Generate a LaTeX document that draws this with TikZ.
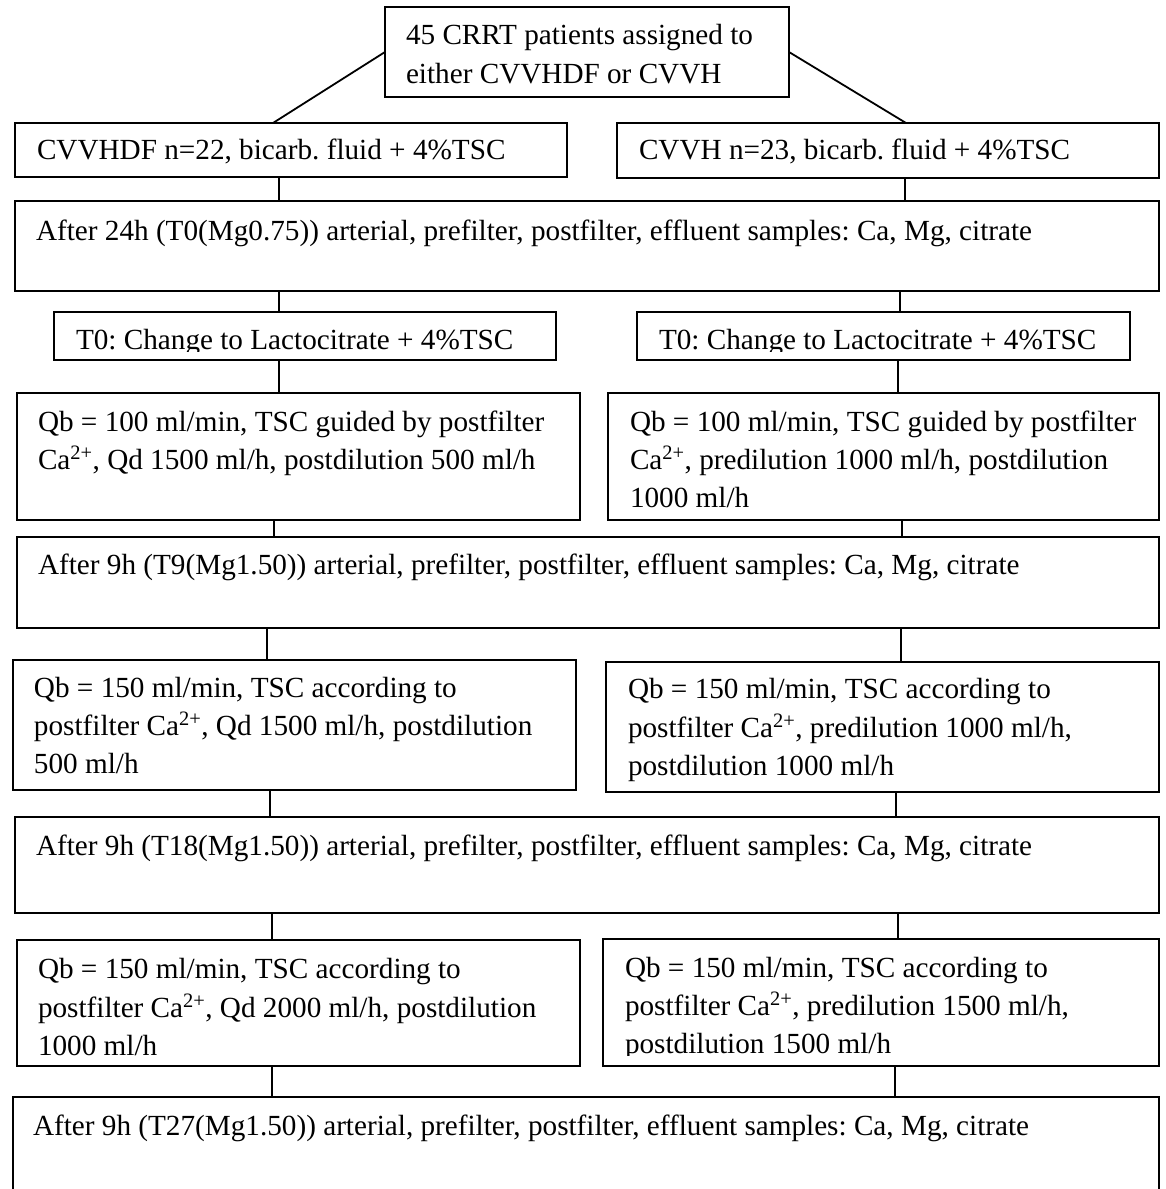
\documentclass[tikz,border=0pt]{standalone}
\usepackage{fontspec}
\setmainfont{Liberation Serif}
\usetikzlibrary{fit}
\frenchspacing
\begin{document}
\begin{tikzpicture}[x=1pt,y=-1pt,
  box/.style={draw=black, line width=1.8pt, rectangle, inner sep=0pt, outer sep=0pt},
  conn/.style={draw=black, line width=1.8pt},
  txt/.style={inner sep=0pt, outer sep=0pt, anchor=base west, font=\fontsize{29.2}{38}\selectfont}]
\useasboundingbox (0,0) rectangle (1166,1189);
\clip (0,0) rectangle (1166,1189);
\fill[white] (0,0) rectangle (1166,1189);
% boxes
\node[box, fit={(385,7) (789,97)}] (top) {};
\node[box, fit={(15,123) (567,177)}] (cvvhdf) {};
\node[box, fit={(617,123) (1159,178)}] (cvvh) {};
\node[box, fit={(15,201) (1159,291)}] (after24) {};
\node[box, fit={(54,312) (556,360)}] (t0L) {};
\node[box, fit={(637,312) (1130,360)}] (t0R) {};
\node[box, fit={(17,393) (580,520)}] (qbAL) {};
\node[box, fit={(608,393) (1159,520)}] (qbAR) {};
\node[box, fit={(17,537) (1159,628)}] (t9) {};
\node[box, fit={(13,660) (576,790)}] (qbBL) {};
\node[box, fit={(606,662) (1159,792)}] (qbBR) {};
\node[box, fit={(15,817) (1159,913)}] (t18) {};
\node[box, fit={(17,940) (580,1066)}] (qbCL) {};
\node[box, fit={(603,939) (1159,1066)}] (qbCR) {};
\node[box, fit={(13,1097) (1159,1195)}] (t27) {};
% texts
\node[txt] (top1) at (406,44) {45 CRRT patients assigned to};
\node[txt] (top2) at (406,83) {either CVVHDF or CVVH};
\node[txt] (cvvhdfT) at (37,159) {CVVHDF n=22, bicarb. fluid + 4\%TSC};
\node[txt] (cvvhT) at (639,159) {CVVH n=23, bicarb. fluid + 4\%TSC};
\node[txt] (after24T) at (36,240) {After 24h (T0(Mg0.75)) arterial, prefilter, postfilter, effluent samples: Ca, Mg, citrate};
\begin{scope}
\clip (0,300) rectangle (1166,351.5);
\node[txt] (t0LT) at (76,349) {T0: Change to Lactocitrate + 4\%TSC};
\node[txt] (t0RT) at (659,349) {T0: Change to Lactocitrate + 4\%TSC};
\end{scope}
\node[txt] (qbAL1) at (38,431) {Qb = 100 ml/min, TSC guided by postfilter};
\node[txt] (qbAL2) at (38,469) {Ca\textsuperscript{2+}, Qd 1500 ml/h, postdilution 500 ml/h};
\node[txt] (qbAR1) at (630,431) {Qb = 100 ml/min, TSC guided by postfilter};
\node[txt] (qbAR2) at (630,469) {Ca\textsuperscript{2+}, predilution 1000 ml/h, postdilution};
\node[txt] (qbAR3) at (630,507) {1000 ml/h};
\node[txt] (t9T) at (38,574) {After 9h (T9(Mg1.50)) arterial, prefilter, postfilter, effluent samples: Ca, Mg, citrate};
\node[txt] (qbBL1) at (34,697) {Qb = 150 ml/min, TSC according to};
\node[txt] (qbBL2) at (34,735) {postfilter Ca\textsuperscript{2+}, Qd 1500 ml/h, postdilution};
\node[txt] (qbBL3) at (34,773) {500 ml/h};
\node[txt] (qbBR1) at (628,698) {Qb = 150 ml/min, TSC according to};
\node[txt] (qbBR2) at (628,737) {postfilter Ca\textsuperscript{2+}, predilution 1000 ml/h,};
\node[txt] (qbBR3) at (628,775) {postdilution 1000 ml/h};
\node[txt] (t18T) at (36,855) {After 9h (T18(Mg1.50)) arterial, prefilter, postfilter, effluent samples: Ca, Mg, citrate};
\node[txt] (qbCL1) at (38,978) {Qb = 150 ml/min, TSC according to};
\node[txt] (qbCL2) at (38,1017) {postfilter Ca\textsuperscript{2+}, Qd 2000 ml/h, postdilution};
\node[txt] (qbCL3) at (38,1055) {1000 ml/h};
\node[txt] (qbCR1) at (625,977) {Qb = 150 ml/min, TSC according to};
\node[txt] (qbCR2) at (625,1015) {postfilter Ca\textsuperscript{2+}, predilution 1500 ml/h,};
\begin{scope}
\clip (600,1030) rectangle (1160,1055.5);
\node[txt] (qbCR3) at (625,1053) {postdilution 1500 ml/h};
\end{scope}
\node[txt] (t27T) at (33,1135) {After 9h (T27(Mg1.50)) arterial, prefilter, postfilter, effluent samples: Ca, Mg, citrate};
% connectors
\draw[conn] (top.west) -- (cvvhdf.north -| 273,0);
\draw[conn] (top.east) -- (cvvh.north -| 906,0);
\draw[conn] (cvvhdf.south -| 279,0) -- (after24.north -| 279,0);
\draw[conn] (cvvh.south -| 905,0) -- (after24.north -| 905,0);
\draw[conn] (after24.south -| 279,0) -- (t0L.north -| 279,0);
\draw[conn] (after24.south -| 900,0) -- (t0R.north -| 900,0);
\draw[conn] (t0L.south -| 279,0) -- (qbAL.north -| 279,0);
\draw[conn] (t0R.south -| 898,0) -- (qbAR.north -| 898,0);
\draw[conn] (qbAL.south -| 274,0) -- (t9.north -| 274,0);
\draw[conn] (qbAR.south -| 902,0) -- (t9.north -| 902,0);
\draw[conn] (t9.south -| 267,0) -- (qbBL.north -| 267,0);
\draw[conn] (t9.south -| 901,0) -- (qbBR.north -| 901,0);
\draw[conn] (qbBL.south -| 270,0) -- (t18.north -| 270,0);
\draw[conn] (qbBR.south -| 896,0) -- (t18.north -| 896,0);
\draw[conn] (t18.south -| 272,0) -- (qbCL.north -| 272,0);
\draw[conn] (t18.south -| 898,0) -- (qbCR.north -| 898,0);
\draw[conn] (qbCL.south -| 272,0) -- (t27.north -| 272,0);
\draw[conn] (qbCR.south -| 895,0) -- (t27.north -| 895,0);
\end{tikzpicture}
\end{document}
